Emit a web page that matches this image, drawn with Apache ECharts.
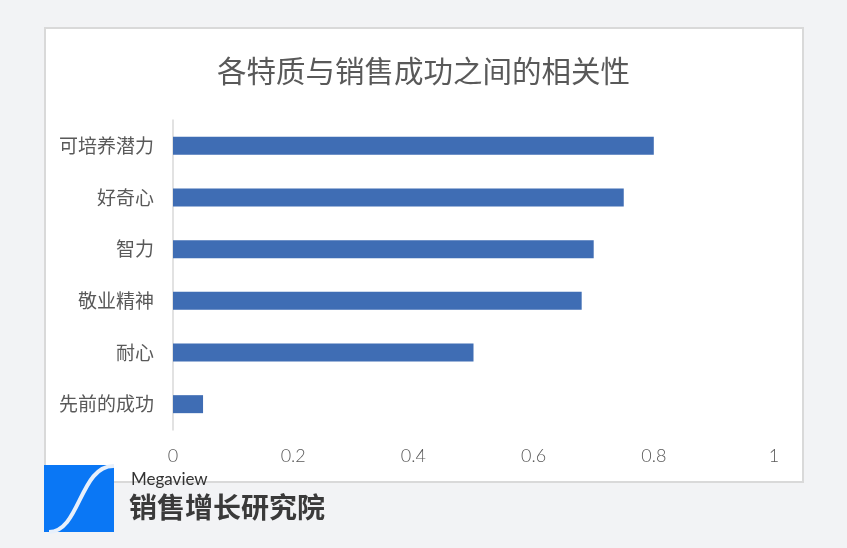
<!DOCTYPE html>
<html><head><meta charset="utf-8">
<script src="https://cdn.jsdelivr.net/npm/echarts@6/dist/echarts.min.js"></script>
<style>html,body{margin:0;padding:0;background:#f2f3f5}#c{width:847px;height:548px}</style>
</head><body><div id="c"></div>
<script>
var titleText = '各特质与销售成功之间的相关性';
var categories = ['可培养潜力', '好奇心', '智力', '敬业精神', '耐心', '先前的成功'];
var values = [0.80, 0.75, 0.70, 0.68, 0.50, 0.05];
var xTicks = [0, 0.2, 0.4, 0.6, 0.8, 1];

var chart = echarts.init(document.getElementById('c'));
chart.setOption({
  backgroundColor: '#f2f3f5',
  animation: false,
  title: {
    text: titleText, left: 'center', top: 51,
    textStyle: {fontFamily: 'Noto Sans CJK SC', fontSize: 29.5, fontWeight: 'normal', color: '#595959'}
  },
  graphic: [
    {type: 'rect', z: -10, shape: {x: 45, y: 28, width: 758, height: 454},
     style: {fill: '#ffffff', stroke: '#d9d9d9', lineWidth: 2}},
    {type: 'rect', z: 10, shape: {x: 44, y: 465, width: 70, height: 67}, style: {fill: '#0a77f5'}},
    {type: 'bezierCurve', z: 11, shape: {x1: 49, y1: 532, cpx1: 80, cpy1: 532, cpx2: 80, cpy2: 465, x2: 114, y2: 466},
     style: {stroke: '#e8f0fb', lineWidth: 4, fill: null}},
    {type: 'text', z: 11, left: 131, top: 471,
     style: {text: 'Megaview', fontFamily: 'Lato', fontSize: 17, fill: '#333333'}},
    {type: 'text', z: 11, left: 129, top: 493,
     style: {text: '销售增长研究院', fontFamily: 'Noto Sans CJK SC', fontWeight: 'bold', fontSize: 28, fill: '#3a3a3a'}}
  ],
  grid: {left: 173, right: 73, top: 120, bottom: 118, containLabel: false},
  xAxis: {
    type: 'value', min: 0, max: 1, interval: 0.2,
    axisLine: {show: false}, axisTick: {show: false}, splitLine: {show: false},
    axisLabel: {margin: 17, fontFamily: 'Lato', fontWeight: 300, fontSize: 18, color: '#595959',
      formatter: function (v) { var r = Math.round(v * 10) / 10; return xTicks.indexOf(r) >= 0 ? String(r) : ''; }}
  },
  yAxis: {
    type: 'category', inverse: true, data: categories,
    axisLine: {show: true, lineStyle: {color: '#d9d9d9', width: 1.5}},
    axisTick: {show: false},
    axisLabel: {margin: 19, fontFamily: 'Noto Sans CJK SC', fontSize: 19, color: '#595959'}
  },
  series: [{
    type: 'bar', data: values, barWidth: 18,
    itemStyle: {color: '#3f6db4'}
  }]
});
</script></body></html>
